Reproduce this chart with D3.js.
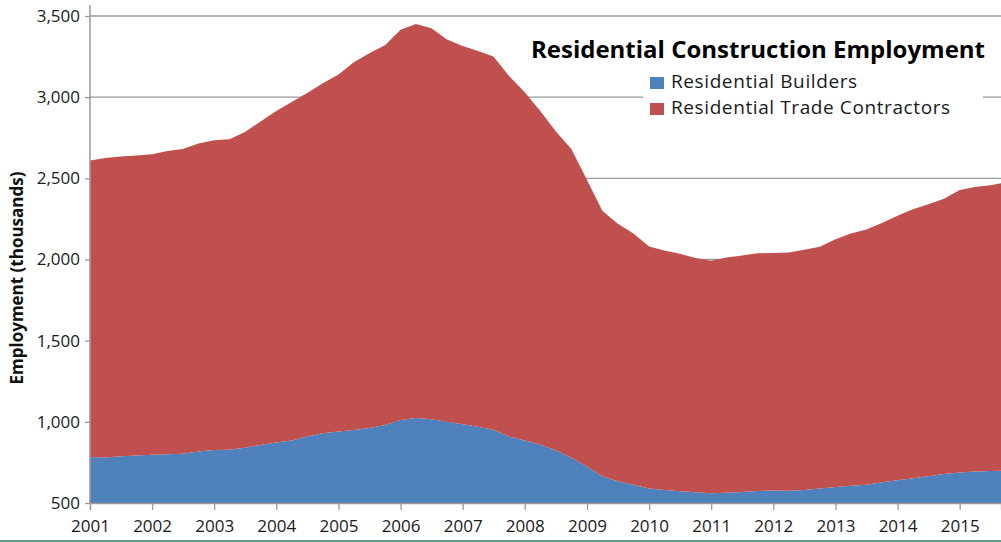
<!DOCTYPE html>
<html>
<head>
<meta charset="utf-8">
<script src="https://cdn.jsdelivr.net/npm/d3@7"></script>
<style>
  html, body { margin: 0; padding: 0; background: #fff; }
  #vis { width: 1001px; height: 542px; overflow: hidden; }
  text { font-family: "Open Sans", "Noto Sans", sans-serif; }
</style>
</head>
<body>
<div id="vis"></div>
<script>
// quarterly readings, thousands of jobs
var months = ["2001-01","2001-04","2001-07","2001-10","2002-01","2002-04","2002-07","2002-10",
  "2003-01","2003-04","2003-07","2003-10","2004-01","2004-04","2004-07","2004-10",
  "2005-01","2005-04","2005-07","2005-10","2006-01","2006-04","2006-07","2006-10",
  "2007-01","2007-04","2007-07","2007-10","2008-01","2008-04","2008-07","2008-10",
  "2009-01","2009-04","2009-07","2009-10","2010-01","2010-04","2010-07","2010-10",
  "2011-01","2011-04","2011-07","2011-10","2012-01","2012-04","2012-07","2012-10",
  "2013-01","2013-04","2013-07","2013-10","2014-01","2014-04","2014-07","2014-10",
  "2015-01","2015-04","2015-07","2015-09"];

var builders = [783,780,788,792,797,800,804,818,
  826,828,840,858,872,885,910,930,
  940,950,962,980,1012,1023,1016,1000,
  985,970,952,910,885,860,825,778,
  725,665,634,612,590,580,572,566,
  560,563,568,574,577,575,580,590,
  598,607,612,628,640,652,665,678,
  688,694,697,699];

var contractors = [1827,1845,1847,1848,1851,1868,1876,1897,
  1909,1912,1945,1992,2043,2085,2115,2155,
  2200,2265,2308,2340,2403,2427,2409,2355,
  2330,2315,2298,2220,2145,2055,1965,1902,
  1765,1635,1586,1548,1490,1475,1463,1444,
  1433,1449,1457,1464,1463,1468,1480,1488,
  1527,1553,1573,1597,1630,1658,1675,1697,
  1740,1753,1761,1771];

var seriesNames = ["Residential Builders", "Residential Trade Contractors"];
var seriesColors = ["#4f81bd", "#c0504d"];
var yTicks = [500, 1000, 1500, 2000, 2500, 3000, 3500];

var W = 1001, H = 542;
var plot = {left: 90, right: 1001, top: 16, bottom: 503};

var parseMonth = d3.timeParse("%Y-%m");
var rows = months.map(function(m, i) {
  return {date: parseMonth(m), builders: builders[i], contractors: contractors[i]};
});

var svg = d3.select("#vis").append("svg")
  .attr("width", W)
  .attr("height", H);

var x = d3.scaleTime()
  .domain([rows[0].date, rows[rows.length - 1].date])
  .range([plot.left, plot.right]);

var y = d3.scaleLinear()
  .domain([500, 3500])
  .range([plot.bottom, plot.top]);

svg.append("defs").append("clipPath").attr("id", "plotclip")
  .append("rect")
  .attr("x", plot.left)
  .attr("y", 0)
  .attr("width", plot.right - plot.left)
  .attr("height", plot.bottom);

// gridlines
svg.append("g")
  .selectAll("line")
  .data(yTicks)
  .join("line")
  .attr("x1", plot.left)
  .attr("x2", plot.right)
  .attr("y1", function(d) { return y(d); })
  .attr("y2", function(d) { return y(d); })
  .attr("stroke", "#9a9a9a")
  .attr("stroke-width", 1.3);

// stacked areas
var stack = d3.stack().keys(["builders", "contractors"]);
var layers = stack(rows);

var area = d3.area()
  .x(function(d) { return x(d.data.date); })
  .y0(function(d) { return y(d[0]); })
  .y1(function(d) { return y(d[1]); });

svg.append("g")
  .attr("clip-path", "url(#plotclip)")
  .selectAll("path")
  .data(layers)
  .join("path")
  .attr("d", area)
  .attr("fill", function(d, i) { return seriesColors[i]; });

// y axis
var yAxis = svg.append("g")
  .attr("transform", "translate(" + plot.left + ",0)")
  .call(d3.axisLeft(y).tickValues(yTicks).tickSize(5).tickPadding(5).tickFormat(d3.format(",")));
yAxis.select(".domain").remove();
yAxis.append("line")
  .attr("x1", 0).attr("x2", 0)
  .attr("y1", 5).attr("y2", plot.bottom)
  .attr("stroke", "#9a9a9a")
  .attr("stroke-width", 1.5);
yAxis.selectAll(".tick line").attr("stroke", "#9a9a9a").attr("stroke-width", 1.3);
yAxis.selectAll(".tick text")
  .attr("fill", "#1a1a1a")
  .style("font-size", "17px");

// x axis
var xAxis = svg.append("g")
  .attr("transform", "translate(0," + plot.bottom + ")")
  .call(d3.axisBottom(x).ticks(d3.timeYear.every(1)).tickSize(7).tickPadding(10).tickFormat(d3.timeFormat("%Y")));
xAxis.select(".domain")
  .attr("stroke", "#9a9a9a")
  .attr("stroke-width", 1.3);
xAxis.selectAll(".tick line").attr("stroke", "#9a9a9a").attr("stroke-width", 1.3);
xAxis.selectAll(".tick text")
  .attr("fill", "#1a1a1a")
  .style("font-size", "17px");

// y axis title
svg.append("text")
  .attr("transform", "translate(23,278) rotate(-90)")
  .attr("text-anchor", "middle")
  .style("font-size", "17px")
  .style("font-weight", "bold")
  .attr("fill", "#111")
  .text("Employment (thousands)");

// chart title
svg.append("text")
  .attr("x", 985)
  .attr("y", 58)
  .attr("text-anchor", "end")
  .style("font-size", "24px")
  .style("font-weight", "bold")
  .attr("fill", "#000")
  .text("Residential Construction Employment");

// legend
var legend = svg.append("g");
legend.append("rect")
  .attr("x", 643).attr("y", 68)
  .attr("width", 340).attr("height", 52)
  .attr("fill", "#fff");

var items = legend.selectAll("g.item")
  .data(seriesNames)
  .join("g")
  .attr("class", "item")
  .attr("transform", function(d, i) { return "translate(650," + (77 + i * 26) + ")"; });
items.append("rect")
  .attr("width", 14).attr("height", 12)
  .attr("fill", function(d, i) { return seriesColors[i]; });
items.append("text")
  .attr("x", 21)
  .attr("y", 11)
  .style("font-size", "19px")
  .style("letter-spacing", "0.6px")
  .attr("fill", "#1a1a1a")
  .text(function(d) { return d; });

// bottom rule
svg.append("line")
  .attr("x1", 0).attr("x2", W)
  .attr("y1", 541).attr("y2", 541)
  .attr("stroke", "#2f7a68")
  .attr("stroke-width", 1.5);
</script>
</body>
</html>
